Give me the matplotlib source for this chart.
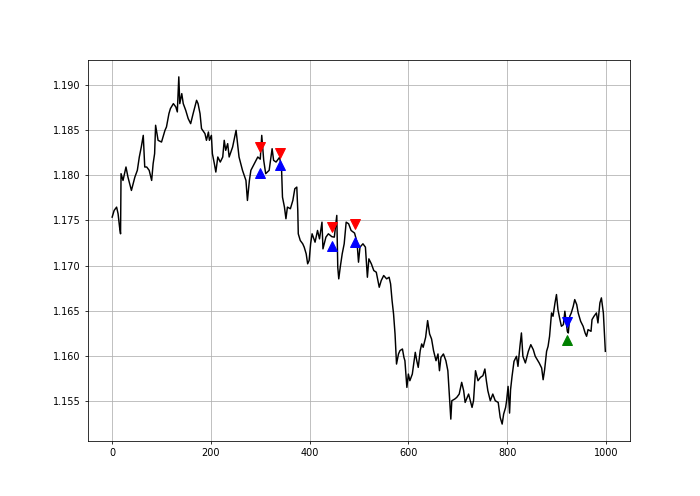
import numpy as np
import matplotlib
matplotlib.use("Agg")
import matplotlib.pyplot as plt

# price path (bar index, close)
bar_index = [0, 4, 9, 12, 15, 17, 18, 22, 28, 32, 39, 46, 51, 55, 59, 63, 66, 70, 75, 80,
             83, 86, 88, 93, 100, 103, 107, 110, 115, 118, 124, 129, 132, 135, 137, 141, 144, 149, 154, 159,
             164, 171, 174, 178, 181, 188, 191, 195, 197, 201, 203, 207, 210, 214, 219, 224, 227, 230, 234, 237,
             244, 251, 254, 257, 264, 271, 274, 278, 281, 288, 295, 300, 303, 307, 311, 318, 324, 327, 332, 339,
             343, 345, 349, 352, 355, 361, 366, 370, 374, 376, 377, 381, 386, 389, 393, 396, 399, 402, 405, 411,
             416, 420, 425, 427, 433, 438, 445, 450, 455, 457, 459, 462, 466, 470, 474, 479, 484, 491, 496, 499,
             502, 508, 513, 517, 520, 525, 530, 535, 541, 545, 550, 556, 561, 564, 567, 570, 573, 576, 580, 583,
             588, 591, 593, 597, 600, 603, 608, 614, 617, 620, 624, 627, 630, 635, 639, 643, 647, 651, 656, 660,
             663, 666, 671, 676, 680, 683, 686, 688, 694, 698, 703, 708, 712, 715, 722, 729, 732, 736, 741, 746,
             751, 755, 758, 761, 766, 771, 776, 782, 786, 790, 793, 797, 799, 802, 805, 807, 810, 814, 819, 822,
             826, 829, 832, 837, 843, 848, 853, 857, 861, 865, 870, 873, 876, 880, 883, 886, 890, 893, 897, 900,
             903, 907, 910, 914, 917, 922, 924, 927, 930, 934, 937, 941, 944, 949, 954, 958, 961, 964, 970, 972,
             976, 981, 984, 988, 991, 995, 999]
close = [1.17537, 1.17611, 1.17648, 1.17574, 1.17426, 1.17352, 1.18019, 1.17944, 1.18093, 1.17981,
         1.17833, 1.17981, 1.18056, 1.18204, 1.18315, 1.18444, 1.18093, 1.18093, 1.18056, 1.17944,
         1.18130, 1.18241, 1.18556, 1.18389, 1.18370, 1.18426, 1.18500, 1.18537, 1.18685, 1.18741,
         1.18796, 1.18759, 1.18704, 1.19093, 1.18796, 1.18907, 1.18796, 1.18722, 1.18630, 1.18574,
         1.18685, 1.18833, 1.18796, 1.18685, 1.18519, 1.18463, 1.18389, 1.18481, 1.18389, 1.18444,
         1.18241, 1.18130, 1.18037, 1.18204, 1.18148, 1.18204, 1.18389, 1.18278, 1.18352, 1.18204,
         1.18315, 1.18500, 1.18352, 1.18204, 1.18056, 1.17944, 1.17722, 1.17944, 1.18056, 1.18130,
         1.18204, 1.18180, 1.18444, 1.18167, 1.18019, 1.18056, 1.18296, 1.18167, 1.18148, 1.18200,
         1.18093, 1.17759, 1.17648, 1.17519, 1.17648, 1.17630, 1.17722, 1.17852, 1.17870, 1.17611,
         1.17352, 1.17278, 1.17241, 1.17204, 1.17130, 1.17019, 1.17056, 1.17241, 1.17352, 1.17259,
         1.17389, 1.17296, 1.17481, 1.17185, 1.17315, 1.17352, 1.17320, 1.17315, 1.17556, 1.16981,
         1.16852, 1.16981, 1.17130, 1.17241, 1.17481, 1.17463, 1.17389, 1.17360, 1.17259, 1.17037,
         1.17204, 1.17241, 1.17204, 1.16870, 1.17074, 1.17019, 1.16944, 1.16926, 1.16759, 1.16833,
         1.16889, 1.16852, 1.16870, 1.16796, 1.16611, 1.16463, 1.16241, 1.15907, 1.16019, 1.16056,
         1.16074, 1.15981, 1.15944, 1.15648, 1.15796, 1.15722, 1.15796, 1.16037, 1.15944, 1.15870,
         1.16056, 1.16130, 1.16093, 1.16204, 1.16389, 1.16241, 1.16185, 1.16056, 1.15944, 1.16019,
         1.15833, 1.15981, 1.16019, 1.15944, 1.15833, 1.15574, 1.15296, 1.15500, 1.15519, 1.15537,
         1.15574, 1.15704, 1.15611, 1.15481, 1.15574, 1.15426, 1.15500, 1.15833, 1.15722, 1.15759,
         1.15778, 1.15852, 1.15722, 1.15611, 1.15500, 1.15574, 1.15500, 1.15481, 1.15315, 1.15241,
         1.15352, 1.15426, 1.15500, 1.15659, 1.15363, 1.15622, 1.15770, 1.15937, 1.15993, 1.15881,
         1.16104, 1.16252, 1.15993, 1.15919, 1.16048, 1.16122, 1.16067, 1.15993, 1.15956, 1.15919,
         1.15863, 1.15733, 1.15844, 1.16048, 1.16104, 1.16215, 1.16474, 1.16437, 1.16585, 1.16678,
         1.16511, 1.16400, 1.16326, 1.16344, 1.16493, 1.16270, 1.16252, 1.16437, 1.16474, 1.16548,
         1.16622, 1.16567, 1.16474, 1.16381, 1.16326, 1.16252, 1.16215, 1.16289, 1.16270, 1.16400,
         1.16437, 1.16474, 1.16363, 1.16585, 1.16641, 1.16474, 1.16048]

# signal markers
red_down_x = [300, 340, 445, 491]
red_down_y = [1.1831, 1.1825, 1.1743, 1.1746]
blue_up_x = [300, 340, 445, 491]
blue_up_y = [1.1803, 1.1812, 1.1722, 1.1726]
blue_down_x = [922]
blue_down_y = [1.1637]
green_up_x = [922]
green_up_y = [1.1617]

fig, ax = plt.subplots(figsize=(10, 7.086), dpi=70)
ax.plot(bar_index, close, color='black', linewidth=1.5)

ax.plot(red_down_x, red_down_y, 'v', color='red', markersize=11, linestyle='none')
ax.plot(blue_up_x, blue_up_y, '^', color='blue', markersize=11, linestyle='none')
ax.plot(blue_down_x, blue_down_y, 'v', color='blue', markersize=11, linestyle='none')
ax.plot(green_up_x, green_up_y, '^', color='green', markersize=11, linestyle='none')

ax.grid(True)
fig.savefig('out.png', dpi=70)
